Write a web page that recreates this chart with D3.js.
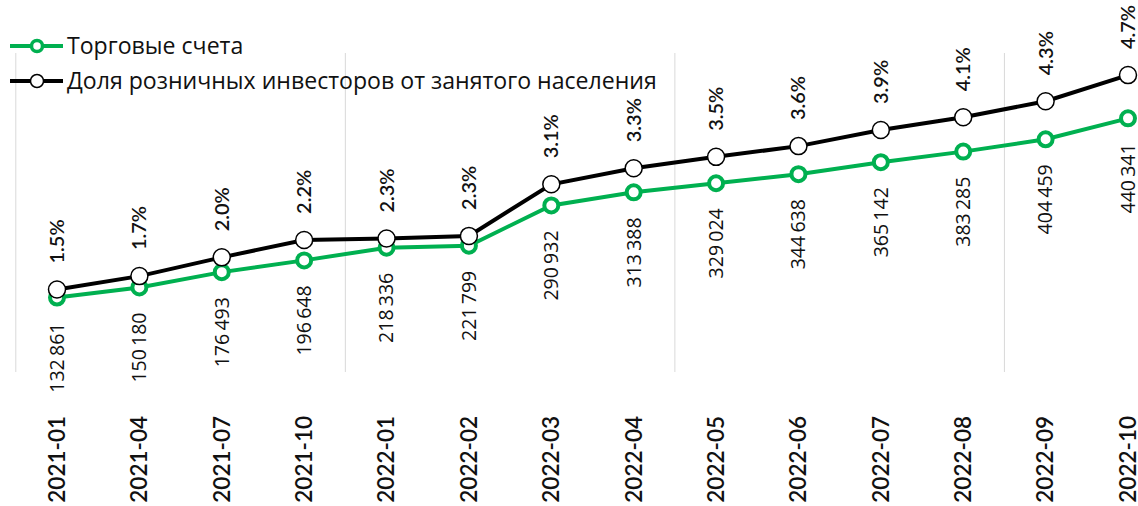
<!DOCTYPE html>
<html>
<head>
<meta charset="utf-8">
<script src="https://cdn.jsdelivr.net/npm/d3@7"></script>
<style>
  html, body { margin: 0; padding: 0; background: #fff; }
  svg { display: block; font-family: "Open Sans", sans-serif; }
  .strong { font-family: Lato, "Open Sans", sans-serif; font-weight: 600; }
</style>
</head>
<body>
<svg id="chart" width="1138" height="506"></svg>
<script>
// Months on the x axis
const months = ["2021-01", "2021-04", "2021-07", "2021-10", "2022-01", "2022-02", "2022-03",
                "2022-04", "2022-05", "2022-06", "2022-07", "2022-08", "2022-09", "2022-10"];
// Number of trading accounts
const accounts = [132861, 150180, 176493, 196648, 218336, 221799, 290932,
                  313388, 329024, 344638, 365142, 383285, 404459, 440341];
// Share of retail investors in the employed population, %
const share = [1.50, 1.70, 1.98, 2.24, 2.26, 2.30, 3.07, 3.31, 3.48, 3.64, 3.88, 4.07, 4.31, 4.70];
// Legend entries
const seriesNames = ["Торговые счета", "Доля розничных инвесторов от занятого населения"];

const GREEN = "#00b050";
const svg = d3.select("#chart");

const x = d3.scalePoint().domain(months).range([57, 1128]);
const step = x.step();
const yAcc = d3.scaleLinear().domain([0, 500000]).range([375, 83.6]);
const yShare = d3.scaleLinear().domain([0, 5]).range([390, 55]);

// Vertical separators every fourth month
const sepIdx = [0, 4, 8, 12];
svg.append("g").selectAll("line").data(sepIdx).join("line")
  .attr("x1", i => x(months[i]) - step / 2).attr("x2", i => x(months[i]) - step / 2)
  .attr("y1", 53).attr("y2", 372)
  .attr("stroke", "#d9d9d9").attr("stroke-width", 1);

// Lines
const lineAcc = d3.line().x((d, i) => x(months[i])).y(d => yAcc(d));
const lineShare = d3.line().x((d, i) => x(months[i])).y(d => yShare(d));

svg.append("path").attr("d", lineAcc(accounts))
  .attr("fill", "none").attr("stroke", GREEN).attr("stroke-width", 4);
svg.append("path").attr("d", lineShare(share))
  .attr("fill", "none").attr("stroke", "#000").attr("stroke-width", 4);

// Markers
svg.append("g").selectAll("circle").data(accounts).join("circle")
  .attr("cx", (d, i) => x(months[i])).attr("cy", d => yAcc(d))
  .attr("r", 7).attr("fill", "#fff").attr("stroke", GREEN).attr("stroke-width", 4);
svg.append("g").selectAll("circle").data(share).join("circle")
  .attr("cx", (d, i) => x(months[i])).attr("cy", d => yShare(d))
  .attr("r", 8.5).attr("fill", "#fff").attr("stroke", "#000").attr("stroke-width", 1.5);

// Value labels
const fmtAcc = v => d3.format(",")(v).replace(",", "\u2009");
svg.append("g").selectAll("text").data(accounts).join("text")
  .attr("transform", (d, i) => `translate(${x(months[i])},${yAcc(d) + 25}) rotate(-90)`)
  .attr("dy", "0.35em").attr("text-anchor", "end")
  .attr("font-size", 19.5).attr("fill", "#111")
  .text(fmtAcc);

const fmtShare = v => d3.format(".1f")(v) + "%";
svg.append("g").selectAll("text").data(share).join("text")
  .attr("class", "strong")
  .attr("transform", (d, i) => `translate(${x(months[i])},${yShare(d) - 26}) rotate(-90)`)
  .attr("dy", "0.35em").attr("text-anchor", "start")
  .attr("font-size", 20).attr("fill", "#111")
  .text(fmtShare);

// X axis labels
svg.append("g").selectAll("text").data(months).join("text")
  .attr("class", "strong")
  .attr("transform", d => `translate(${x(d)},416) rotate(-90)`)
  .attr("dy", "0.35em").attr("text-anchor", "end")
  .attr("font-size", 22.5).attr("fill", "#111")
  .text(d => d);

// Legend
const legend = svg.append("g");
const legY = [46, 81];
legend.append("line").attr("x1", 10).attr("x2", 63).attr("y1", legY[0]).attr("y2", legY[0])
  .attr("stroke", GREEN).attr("stroke-width", 4);
legend.append("circle").attr("cx", 37).attr("cy", legY[0]).attr("r", 5.5)
  .attr("fill", "#fff").attr("stroke", GREEN).attr("stroke-width", 3.5);
legend.append("line").attr("x1", 10).attr("x2", 63).attr("y1", legY[1]).attr("y2", legY[1])
  .attr("stroke", "#000").attr("stroke-width", 4);
legend.append("circle").attr("cx", 37).attr("cy", legY[1]).attr("r", 6.5)
  .attr("fill", "#fff").attr("stroke", "#000").attr("stroke-width", 1.5);
legend.selectAll("text").data(seriesNames).join("text")
  .attr("x", 67).attr("y", (d, i) => legY[i]).attr("dy", "0.35em")
  .attr("font-size", 23.1).attr("fill", "#111")
  .text(d => d);
</script>
</body>
</html>
